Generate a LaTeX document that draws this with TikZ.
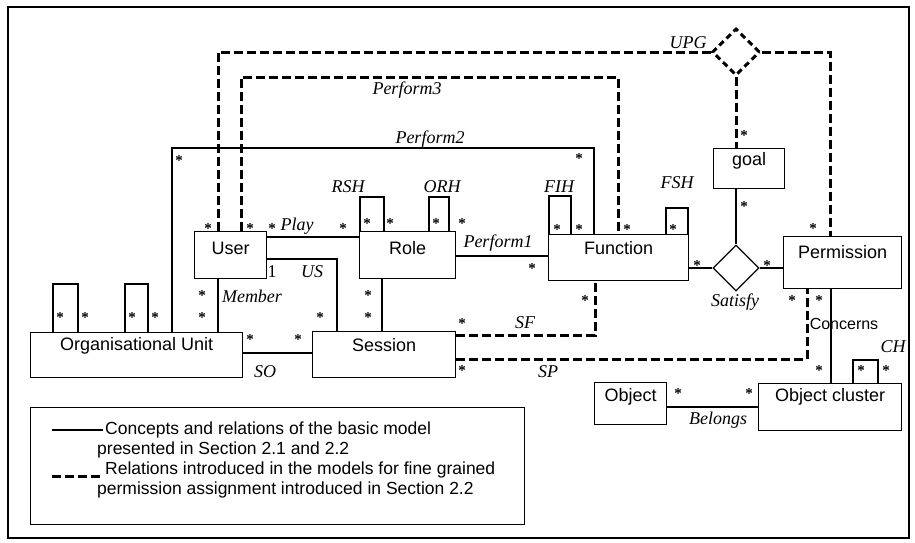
\documentclass[tikz,border=0pt]{standalone}
\usepackage{fontspec}
\setmainfont{Liberation Sans}
\newfontfamily\lserif{Liberation Serif}
\usetikzlibrary{shapes.geometric}
\begin{document}
\begin{tikzpicture}[x=1pt,y=-1pt,
  box/.style={draw, line width=1.3pt, inner xsep=0pt, inner ysep=0pt, anchor=north west, font=\fontsize{18}{20}\selectfont},
  lab/.style={inner sep=0pt, font=\lserif\itshape\fontsize{18}{20}\selectfont},
  ulab/.style={inner sep=0pt, font=\lserif\fontsize{18}{20}\selectfont},
  slab/.style={inner sep=0pt, font=\fontsize{16}{18}\selectfont},
  legtext/.style={inner sep=0pt, anchor=base west, font=\fontsize{17.5}{20}\selectfont},
  mult/.style={inner sep=0pt, yshift=-3pt, font=\lserif\bfseries\fontsize{15}{16}\selectfont},
  rel/.style={line width=1.3pt},
  frel/.style={line width=3pt, dash pattern=on 9pt off 4pt},
]
\useasboundingbox (0,0) rectangle (915,542);
\draw[line width=1.5pt] (8,7) rectangle (909,538);

% boxes
\node[box, minimum width=212pt, text height=17.5pt, text depth=27.5pt] (ou) at (30,332) {Organisational Unit};
\node[box, minimum width=143pt, text height=19.5pt, text depth=26.5pt] (session) at (312,331) {Session};
\node[box, minimum width=72pt, text height=22.5pt, text depth=24.5pt] (user) at (194,231) {User};
\node[box, minimum width=96pt, text height=22.5pt, text depth=24.5pt] (role) at (359,231) {Role};
\node[box, minimum width=140pt, text height=19.5pt, text depth=26.5pt] (fn) at (548,234) {Function};
\node[box, minimum width=118pt, text height=21.5pt, text depth=30.5pt] (perm) at (783,236) {Permission};
\node[box, minimum width=71pt, text height=17pt, text depth=23pt] (goal) at (713,148) {goal};
\node[box, minimum width=72pt, text height=19pt, text depth=23pt] (obj) at (594,382) {Object};
\node[box, minimum width=143pt, text height=18pt, text depth=29pt] (oc) at (758,383) {Object cluster};

% diamonds
\node[diamond, draw, rel, minimum width=46pt, minimum height=46pt, inner sep=0pt] (sat) at (736,268) {};
\node[diamond, draw, line width=3pt, dash pattern=on 6pt off 4pt, minimum width=48pt, minimum height=47pt, inner sep=0pt] (upg) at (736,52) {};

% solid relations
\draw[rel] (user.east |- 0,237) -- (role.west |- 0,237);
\draw[rel] (user.east |- 0,259) -| (337,0 |- session.north);
\draw[rel] (218,0 |- user.south) -- (218,0 |- ou.north);
\draw[rel] (172,0 |- ou.north) |- (594,148) -- (594,0 |- fn.north);
\draw[rel] (ou.east |- 0,353) -- (session.west |- 0,353);
\draw[rel] (382,0 |- role.south) -- (382,0 |- session.north);
\draw[rel] (role.east |- 0,256) -- (fn.west |- 0,256);
\draw[rel] (fn.east |- sat.west) -- (sat.west);
\draw[rel] (sat.east) -- (perm.west |- sat.east);
\draw[rel] (sat.north) -- (sat.north |- goal.south);
\draw[rel] (831,0 |- perm.south) -- (831,0 |- oc.north);
\draw[rel] (obj.east |- 0,407) -- (oc.west |- 0,407);

% self loops
\draw[rel] (53,0 |- ou.north) |- (78,284) -- (78,0 |- ou.north);
\draw[rel] (125,0 |- ou.north) |- (148,284) -- (148,0 |- ou.north);
\draw[rel] (360,0 |- role.north) |- (384,197) -- (384,0 |- role.north);
\draw[rel] (429,0 |- role.north) |- (449,197) -- (449,0 |- role.north);
\draw[rel] (549,0 |- fn.north) |- (571,196) -- (571,0 |- fn.north);
\draw[rel] (666,0 |- fn.north) |- (688,208) -- (688,0 |- fn.north);
\draw[rel] (853,0 |- oc.north) |- (878,360) -- (878,0 |- oc.north);

% dashed relations
\draw[frel] (218,0 |- user.north) |- (upg.west);
\draw[frel] (upg.east) -| (830,0 |- perm.north);
\draw[frel] (upg.south) -- (upg.south |- goal.north);
\draw[frel] (241,0 |- user.north) |- (618,77) -- (618,0 |- fn.north);
\draw[frel] (session.east |- 0,335) -| (595,0 |- fn.south);
\draw[frel] (session.east |- 0,359) -| (807,0 |- perm.south);

% labels
\node[lab] (lupg) at (688,43) {UPG};
\node[lab] (lp3) at (407,90) {Perform3};
\node[lab] (lp2) at (430,139) {Perform2};
\node[lab] (lrsh) at (348,187) {RSH};
\node[lab] (lorh) at (442,187) {ORH};
\node[lab] (lfih) at (559,187) {FIH};
\node[lab] (lfsh) at (677,183) {FSH};
\node[lab] (lplay) at (297,226) {Play};
\node[lab] (lp1) at (498,243) {Perform1};
\node[ulab] (lone) at (272,272) {1};
\node[lab] (lus) at (312,272) {US};
\node[lab] (lmem) at (252,296) {Member};
\node[lab] (lso) at (265,372) {SO};
\node[lab] (lsf) at (525,323) {SF};
\node[lab] (lsp) at (548,372) {SP};
\node[lab] (lsat) at (735,302) {Satisfy};
\node[lab] (lch) at (893,347) {CH};
\node[lab] (lbel) at (718,420) {Belongs};
\node[slab] (lcon) at (844,324) {Concerns};

% multiplicities
\foreach \x/\y [count=\i] in {179/158, 579/156, 208/226, 250/226, 272/226, 343/226, 367/221, 390/221, 436/221, 462/221, 532/266, 557/227, 579/227, 627/227, 673/227, 744/133, 744/204, 697/263, 767/263, 813/226, 792/298, 819/298, 819/368, 861/368, 886/368, 585/298, 462/321, 462/368, 678/391, 749/391, 60/315, 85/315, 132/315, 155/315, 202/293, 202/315, 250/337, 298/337, 320/315, 368/293, 368/315}
  \node[mult] (m\i) at (\x,\y) {*};

% legend
\node[draw, line width=1.3pt, anchor=north west, minimum width=494pt, minimum height=117pt, inner sep=0pt] (legend) at (30,407) {};
\coordinate (ls1) at (52,430);
\coordinate (le1) at (103,430);
\coordinate (ls2) at (52,476);
\coordinate (le2) at (103,476);
\draw[rel] (ls1) -- (le1);
\draw[frel] (ls2) -- (le2);
\node[legtext] (lg1) at (105,434) {Concepts and relations of the basic model};
\node[legtext] (lg2) at (97,454) {presented in Section 2.1 and 2.2};
\node[legtext] (lg3) at (105,474) {Relations introduced in the models for fine grained};
\node[legtext] (lg4) at (97,494) {permission assignment introduced in Section 2.2};
\end{tikzpicture}
\end{document}
